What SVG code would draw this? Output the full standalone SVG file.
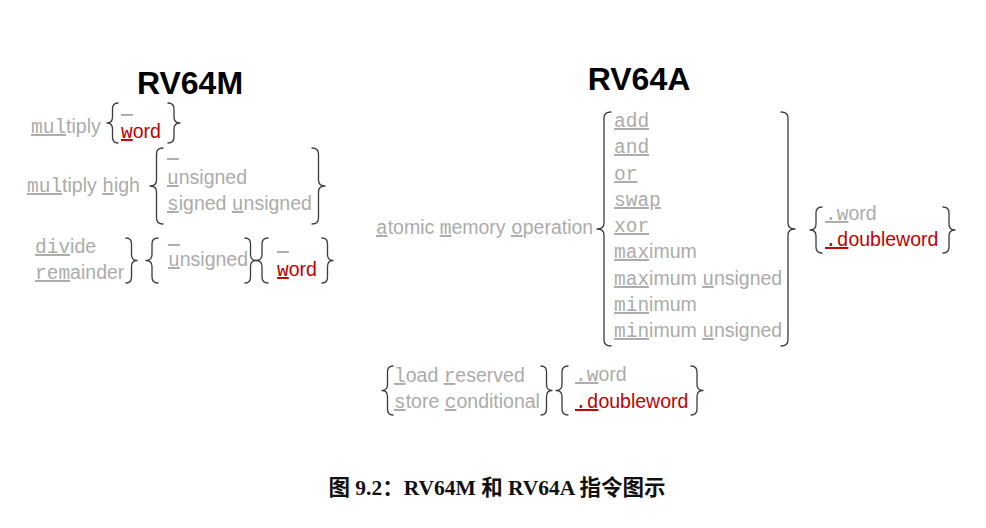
<svg xmlns="http://www.w3.org/2000/svg" width="986" height="528" viewBox="0 0 986 528">
<style>
.bg{fill:#ffffff}
.h{font-family:"Liberation Sans",Arial,sans-serif;font-weight:bold;font-size:32px;fill:#000}
.t{font-family:"Liberation Sans",Arial,sans-serif;font-size:19.5px;fill:#ababab}
.m{font-family:"Liberation Mono","Courier New",monospace;text-decoration:underline;text-decoration-thickness:2px}
.r{fill:#c00000}
.br{fill:none;stroke:#3a3a3a;stroke-width:1.3;stroke-linecap:round;stroke-linejoin:round}
.cap{font-family:"Liberation Serif","Noto Sans CJK SC",serif;font-weight:bold;font-size:21.5px;fill:#111}
</style>
<rect class="bg" x="0" y="0" width="986" height="528"/>

<g id="title-rv64m"><text class="h" x="190" y="94" text-anchor="middle">RV64M</text></g>
<g id="title-rv64a"><text class="h" x="639" y="90" text-anchor="middle">RV64A</text></g>

<g id="mul">
<text class="t" x="31" y="133"><tspan class="m">mul</tspan>tiply</text>
<text class="t m" x="121" y="113">_</text>
<text class="t r" x="121" y="138"><tspan class="m">w</tspan>ord</text>
</g>

<g id="mulh">
<text class="t" x="27" y="192"><tspan class="m">mul</tspan>tiply <tspan class="m">h</tspan>igh</text>
<text class="t m" x="167" y="157">_</text>
<text class="t" x="167" y="184"><tspan class="m">u</tspan>nsigned</text>
<text class="t" x="167" y="210"><tspan class="m">s</tspan>igned <tspan class="m">u</tspan>nsigned</text>
</g>

<g id="divrem">
<text class="t" x="35" y="253"><tspan class="m">div</tspan>ide</text>
<text class="t" x="35" y="279"><tspan class="m">rem</tspan>ainder</text>
<text class="t m" x="168" y="243">_</text>
<text class="t" x="168" y="266"><tspan class="m">u</tspan>nsigned</text>
<text class="t m" x="277" y="250">_</text>
<text class="t r" x="277" y="276"><tspan class="m">w</tspan>ord</text>
</g>

<g id="amo">
<text class="t" x="376" y="234"><tspan class="m">a</tspan>tomic <tspan class="m">m</tspan>emory <tspan class="m">o</tspan>peration</text>
<text class="t m" x="614" y="127">add</text>
<text class="t m" x="614" y="153">and</text>
<text class="t m" x="614" y="180">or</text>
<text class="t m" x="614" y="206">swap</text>
<text class="t m" x="614" y="232">xor</text>
<text class="t" x="614" y="258"><tspan class="m">max</tspan>imum</text>
<text class="t" x="614" y="285"><tspan class="m">max</tspan>imum <tspan class="m">u</tspan>nsigned</text>
<text class="t" x="614" y="311"><tspan class="m">min</tspan>imum</text>
<text class="t" x="614" y="337"><tspan class="m">min</tspan>imum <tspan class="m">u</tspan>nsigned</text>
</g>

<g id="amo-size">
<text class="t" x="825" y="220"><tspan class="m">.w</tspan>ord</text>
<text class="t r" x="825" y="246"><tspan class="m">.d</tspan>oubleword</text>
</g>

<g id="lrsc">
<text class="t" x="394" y="382"><tspan class="m">l</tspan>oad <tspan class="m">r</tspan>eserved</text>
<text class="t" x="394" y="408"><tspan class="m">s</tspan>tore <tspan class="m">c</tspan>onditional</text>
</g>

<g id="lrsc-size">
<text class="t" x="575" y="381"><tspan class="m">.w</tspan>ord</text>
<text class="t r" x="575" y="408"><tspan class="m">.d</tspan>oubleword</text>
</g>

<g id="connectors">
<path class="br" d="M118 103 Q112.5 103 112.5 109 L112.5 117 Q112.5 123 107 123 Q112.5 123 112.5 129 L112.5 137 Q112.5 143 118 143"/>
<path class="br" d="M168 103 Q174 103 174 109 L174 117 Q174 123 180 123 Q174 123 174 129 L174 137 Q174 143 168 143"/>
<path class="br" d="M163 148 Q156.5 148 156.5 154 L156.5 180 Q156.5 186 150 186 Q156.5 186 156.5 192 L156.5 218 Q156.5 224 163 224"/>
<path class="br" d="M312 148 Q318.5 148 318.5 154 L318.5 180 Q318.5 186 325 186 Q318.5 186 318.5 192 L318.5 218 Q318.5 224 312 224"/>
<path class="br" d="M126 238 Q131.5 238 131.5 244 L131.5 254.5 Q131.5 260.5 137 260.5 Q131.5 260.5 131.5 266.5 L131.5 277 Q131.5 283 126 283"/>
<path class="br" d="M158 238 Q152 238 152 244 L152 254.5 Q152 260.5 146 260.5 Q152 260.5 152 266.5 L152 277 Q152 283 158 283"/>
<path class="br" d="M245 238 Q250.5 238 250.5 244 L250.5 254.5 Q250.5 260.5 256 260.5 Q250.5 260.5 250.5 266.5 L250.5 277 Q250.5 283 245 283"/>
<path class="br" d="M268 238 Q262 238 262 244 L262 254.5 Q262 260.5 256 260.5 Q262 260.5 262 266.5 L262 277 Q262 283 268 283"/>
<path class="br" d="M322 238 Q327.5 238 327.5 244 L327.5 254.5 Q327.5 260.5 333 260.5 Q327.5 260.5 327.5 266.5 L327.5 277 Q327.5 283 322 283"/>
<path class="br" d="M611 112 Q604 112 604 118 L604 223 Q604 229 597 229 Q604 229 604 235 L604 340 Q604 346 611 346"/>
<path class="br" d="M781 112 Q788 112 788 118 L788 223 Q788 229 795 229 Q788 229 788 235 L788 340 Q788 346 781 346"/>
<path class="br" d="M822 207 Q816 207 816 213 L816 224 Q816 230 810 230 Q816 230 816 236 L816 247 Q816 253 822 253"/>
<path class="br" d="M943 207 Q949 207 949 213 L949 224 Q949 230 955 230 Q949 230 949 236 L949 247 Q949 253 943 253"/>
<path class="br" d="M393 366 Q387.5 366 387.5 372 L387.5 384.5 Q387.5 390.5 382 390.5 Q387.5 390.5 387.5 396.5 L387.5 409 Q387.5 415 393 415"/>
<path class="br" d="M541 366 Q546.5 366 546.5 372 L546.5 384.5 Q546.5 390.5 552 390.5 Q546.5 390.5 546.5 396.5 L546.5 409 Q546.5 415 541 415"/>
<path class="br" d="M568 366 Q562 366 562 372 L562 384.5 Q562 390.5 556 390.5 Q562 390.5 562 396.5 L562 409 Q562 415 568 415"/>
<path class="br" d="M691 366 Q697 366 697 372 L697 384.5 Q697 390.5 703 390.5 Q697 390.5 697 396.5 L697 409 Q697 415 691 415"/>
</g>

<g id="caption"><text class="cap" x="497" y="495" text-anchor="middle">图 9.2：RV64M 和 RV64A 指令图示</text></g>
</svg>
